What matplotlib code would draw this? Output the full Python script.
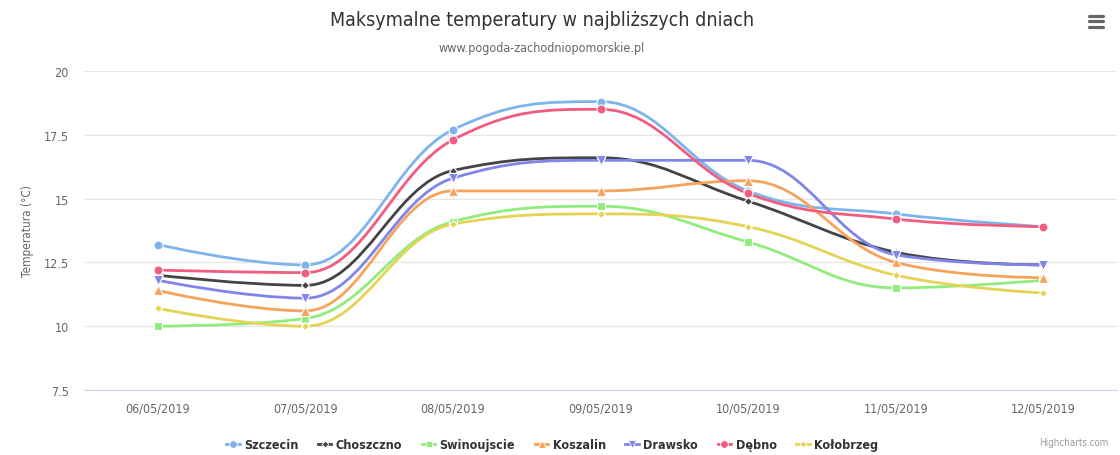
import matplotlib
matplotlib.use('Agg')
import matplotlib.pyplot as plt
from matplotlib.path import Path
from matplotlib.patches import PathPatch
import numpy as np

days = ['06/05/2019', '07/05/2019', '08/05/2019', '09/05/2019',
        '10/05/2019', '11/05/2019', '12/05/2019']

szczecin = [13.2, 12.4, 17.7, 18.8, 15.3, 14.4, 13.9]
choszczno = [12.0, 11.6, 16.1, 16.6, 14.9, 12.9, 12.4]
swinoujscie = [10.0, 10.3, 14.1, 14.7, 13.3, 11.5, 11.8]
koszalin = [11.4, 10.6, 15.3, 15.3, 15.7, 12.5, 11.9]
drawsko = [11.8, 11.1, 15.8, 16.5, 16.5, 12.8, 12.4]
debno = [12.2, 12.1, 17.3, 18.5, 15.2, 14.2, 13.9]
kolobrzeg = [10.7, 10.0, 14.0, 14.4, 13.9, 12.0, 11.3]

series = [
    ('Szczecin', szczecin, '#7cb5ec', 'o', 6.5),
    ('Choszczno', choszczno, '#434348', 'D', 4.5),
    ('Swinoujscie', swinoujscie, '#90ed7d', 's', 6),
    ('Koszalin', koszalin, '#f7a35c', '^', 6.5),
    ('Drawsko', drawsko, '#8085e9', 'v', 6.5),
    ('Dębno', debno, '#f15c80', 'o', 6.5),
    ('Kołobrzeg', kolobrzeg, '#e4d354', 'D', 4.5),
]

plt.rcParams['font.family'] = ['DejaVu Sans']
plt.rcParams['font.stretch'] = 'condensed'


def spline_path(xs, ys, smoothing=1.5):
    # highcharts-style spline control points
    denom = smoothing + 1
    n = len(xs)
    right = [None] * n
    verts = [(xs[0], ys[0])]
    codes = [Path.MOVETO]
    for i in range(1, n):
        px, py = xs[i], ys[i]
        lx, ly = xs[i - 1], ys[i - 1]
        lcx, lcy = px, py
        if i < n - 1:
            nx, ny = xs[i + 1], ys[i + 1]
            lcx = (smoothing * px + lx) / denom
            lcy = (smoothing * py + ly) / denom
            rcx = (smoothing * px + nx) / denom
            rcy = (smoothing * py + ny) / denom
            corr = (rcy - lcy) * (rcx - px) / (rcx - lcx) + py - rcy
            lcy += corr
            rcy += corr
            if lcy > ly and lcy > py:
                lcy = max(ly, py); rcy = 2 * py - lcy
            elif lcy < ly and lcy < py:
                lcy = min(ly, py); rcy = 2 * py - lcy
            if rcy > ny and rcy > py:
                rcy = max(ny, py); lcy = 2 * py - rcy
            elif rcy < ny and rcy < py:
                rcy = min(ny, py); lcy = 2 * py - rcy
            right[i] = (rcx, rcy)
        p1 = right[i - 1] if right[i - 1] is not None else (lx, ly)
        verts += [p1, (lcx, lcy), (px, py)]
        codes += [Path.CURVE4] * 3
    return Path(verts, codes)


fig = plt.figure(figsize=(11.2, 4.56), dpi=100)
ax = fig.add_axes([84 / 1120, 1 - 391 / 456, (1117 - 84) / 1120, (391 - 72) / 456])

x = np.arange(len(days))
handles = []
for name, vals, col, mk, ms in series:
    ax.add_patch(PathPatch(spline_path(x, vals), fill=False, edgecolor=col, lw=2, zorder=3))
    ax.plot(x, vals, ls='none', marker=mk, ms=ms, color=col, mec='white', mew=0.8, zorder=4)
    h, = ax.plot([], [], color=col, lw=2, marker=mk, ms=ms - 1, mec='white', mew=0.6, label=name)
    handles.append(h)

ax.set_xlim(-0.5, len(days) - 0.5)
ax.set_ylim(7.5, 20)
ax.set_yticks([7.5, 10, 12.5, 15, 17.5, 20])
ax.set_yticklabels(['7.5', '10', '12.5', '15', '17.5', '20'])
ax.set_xticks(x)
ax.set_xticklabels(days)
ax.tick_params(axis='both', length=0, labelsize=9, colors='#666666')
ax.tick_params(axis='y', pad=11)
ax.tick_params(axis='x', pad=8)
ax.grid(axis='y', color='#e6e6e6', lw=1)
ax.set_axisbelow(True)
for s in ['top', 'right', 'left']:
    ax.spines[s].set_visible(False)
ax.spines['bottom'].set_color('#ccd6eb')
ax.set_ylabel('Temperatura (°C)', fontsize=8.5, color='#666666', labelpad=7)

fig.text(542 / 1120, 1 - 20 / 456, 'Maksymalne temperatury w najbliższych dniach',
         ha='center', va='center', fontsize=14, color='#333333')
fig.text(542 / 1120, 1 - 49 / 456, 'www.pogoda-zachodniopomorskie.pl',
         ha='center', va='center', fontsize=9, color='#666666')
fig.text(1108 / 1120, 1 - 443 / 456, 'Highcharts.com', ha='right', va='center',
         fontsize=7, color='#999999')

# menu icon
for yy in [17.3, 22.3, 27.5]:
    fig.add_artist(plt.Line2D([1089 / 1120, 1103 / 1120], [1 - yy / 456] * 2,
                              color='#666666', lw=2.3, solid_capstyle='round'))

fig.legend(handles=handles, loc='center', bbox_to_anchor=(552 / 1120, 1 - 446 / 456), ncol=7,
           frameon=False, prop={'weight': 'bold', 'size': 9, 'stretch': 'condensed'},
           handlelength=1.1, columnspacing=1.55, handletextpad=0.35, labelcolor='#333333')

fig.savefig('out.png', dpi=100)
